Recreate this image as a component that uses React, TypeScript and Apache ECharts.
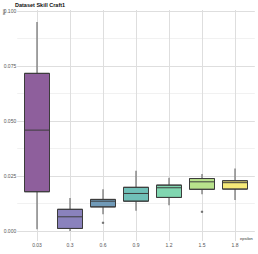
import React, { useEffect, useRef } from "react";
import * as echarts from "echarts";

const categories = ["0.03", "0.3", "0.6", "0.9", "1.2", "1.5", "1.8"];
// [low whisker, Q1, median, Q3, high whisker]
const boxValues = [
  [0.0008, 0.0179, 0.0459, 0.0717, 0.0951],
  [0.0001, 0.0012, 0.0065, 0.0099, 0.0151],
  [0.0077, 0.011, 0.0136, 0.0144, 0.019],
  [0.0092, 0.0136, 0.0171, 0.0199, 0.0274],
  [0.0118, 0.0153, 0.0197, 0.0209, 0.0242],
  [0.0168, 0.019, 0.0224, 0.0239, 0.0259],
  [0.0141, 0.0191, 0.022, 0.0229, 0.0285],
];
const outliers = [
  ["0.6", 0.0038],
  ["1.5", 0.0088],
];
const boxColors = ["#8e5f9c", "#8a82bd", "#709ab8", "#70c0b8", "#80d6b0", "#b8e28c", "#f6ea78"];
const yMajorTicks = [0, 0.025, 0.05, 0.075, 0.1];
const yMinorTicks = [0.0125, 0.0375, 0.0625, 0.0875];
const xGridPositions = [0, 1, 2, 3, 4, 5, 6];

const Y_MIN = -0.0045;
const Y_MAX = 0.1005;
const TOP = 10;
const BOTTOM = 13;

export default function App() {
  const ref = useRef<HTMLDivElement>(null);
  useEffect(() => {
    if (!ref.current) return;
    const chart = echarts.init(ref.current, null, { renderer: "svg" });
    const labelStyle = { fontFamily: "Liberation Sans", fontSize: 5, color: "#555" };
    chart.setOption({
      animation: false,
      title: {
        text: "Dataset Skill Craft1",
        left: 10,
        top: 0,
        padding: [2, 5, 2, 5],
        textStyle: { fontFamily: "Liberation Sans", fontSize: 5.5, fontWeight: "bold", color: "#111" },
      },
      grid: [
        { left: 17.2, right: 3.2, top: TOP, bottom: BOTTOM, containLabel: false },
        { left: 20.5, right: 6.5, top: TOP, bottom: BOTTOM, containLabel: false },
      ],
      xAxis: [
        {
          type: "value",
          gridIndex: 0,
          min: -0.6,
          max: 6.6,
          name: "epsilon",
          nameLocation: "end",
          nameGap: 0,
          nameTextStyle: {
            fontFamily: "Liberation Sans",
            fontSize: 4,
            color: "#333",
            align: "right",
            verticalAlign: "top",
            padding: [5, 2, 0, 0],
          },
          axisLine: { show: false },
          axisLabel: { show: false },
          axisTick: { show: false, customValues: xGridPositions },
          splitLine: { show: true, lineStyle: { color: "#dedede", width: 1 } },
        },
        {
          type: "category",
          gridIndex: 1,
          data: categories,
          boundaryGap: true,
          axisLine: { show: false },
          axisTick: { show: false },
          splitLine: { show: false },
          axisLabel: { ...labelStyle, margin: 1 },
        },
        {
          type: "category",
          gridIndex: 1,
          data: categories,
          boundaryGap: true,
          show: false,
          splitLine: { show: false },
        },
      ],
      yAxis: [
        {
          type: "value",
          gridIndex: 0,
          position: "left",
          min: Y_MIN,
          max: Y_MAX,
          axisLine: { show: false },
          axisTick: { show: false, customValues: yMajorTicks },
          axisLabel: {
            ...labelStyle,
            margin: 1,
            customValues: yMajorTicks,
            formatter: (v: number) => v.toFixed(3),
          },
          splitLine: { show: true, lineStyle: { color: "#dedede", width: 1 } },
        },
        {
          type: "value",
          gridIndex: 0,
          position: "left",
          min: Y_MIN,
          max: Y_MAX,
          name: "acc",
          nameLocation: "end",
          nameRotate: 90,
          nameGap: 1,
          nameTextStyle: {
            fontFamily: "Liberation Sans",
            fontSize: 4,
            color: "#333",
            align: "right",
            verticalAlign: "bottom",
            padding: [0, 0, 12, 0],
          },
          axisLine: { show: false },
          axisTick: { show: false, customValues: yMinorTicks },
          axisLabel: { show: false },
          splitLine: { show: true, lineStyle: { color: "#ebebeb", width: 0.7 } },
        },
        {
          type: "value",
          gridIndex: 1,
          min: Y_MIN,
          max: Y_MAX,
          show: false,
          splitLine: { show: false },
        },
      ],
      series: [
        {
          // whiskers: zero-width boxplot on its own hidden axis, so only a vertical line remains
          type: "boxplot",
          xAxisIndex: 2,
          yAxisIndex: 2,
          boxWidth: [0, 0],
          itemStyle: { color: "#6f6f6f", borderColor: "#6f6f6f", borderWidth: 1.2 },
          data: boxValues,
        },
        {
          type: "boxplot",
          xAxisIndex: 1,
          yAxisIndex: 2,
          boxWidth: [25, 25],
          data: boxValues.map((v, i) => ({
            value: [v[1], v[1], v[2], v[3], v[3]],
            itemStyle: { color: boxColors[i], borderColor: "#3c3c3c", borderWidth: 1 },
          })),
        },
        {
          type: "scatter",
          xAxisIndex: 1,
          yAxisIndex: 2,
          symbolSize: 2.5,
          itemStyle: { color: "#555" },
          data: outliers,
        },
      ],
    });
    return () => chart.dispose();
  }, []);
  return (
    <div
      ref={ref}
      style={{ position: "absolute", left: 0, top: 0, width: 258, height: 254 }}
    />
  );
}
